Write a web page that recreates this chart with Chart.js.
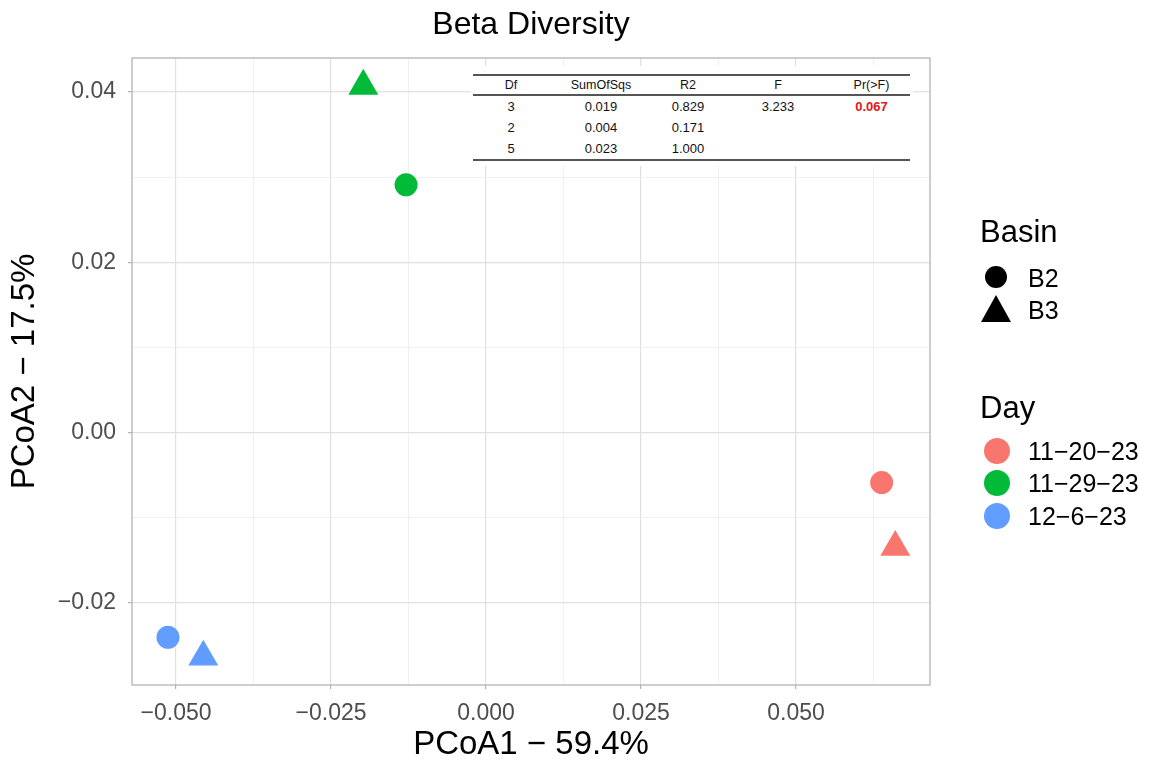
<!DOCTYPE html>
<html>
<head>
<meta charset="utf-8">
<title>Beta Diversity</title>
<script src="https://cdn.jsdelivr.net/npm/chart.js@4.4.1/dist/chart.umd.min.js"></script>
<style>
    html, body { margin: 0; padding: 0; background: #fff; }
    body {
        width: 1150px;
        height: 765px;
        position: relative;
        overflow: hidden;
        font-family: 'Liberation Sans', Arial, Helvetica, sans-serif;
    }
    #chart { position: absolute; left: 0; top: 0; }
    #anova {
        position: absolute;
        left: 471px;
        top: 66px;
        width: 442px;
        height: 100px;
        background: #fff;
    }
    #anova table {
        position: absolute;
        left: 2px;
        top: 8px;
        width: 437px;
        border-collapse: collapse;
        table-layout: fixed;
        font-size: 13px;
        color: #111;
    }
    #anova th, #anova td { text-align: center; padding: 0; font-weight: normal; }
    #anova thead tr { height: 20px; border-top: 2px solid #555; border-bottom: 2px solid #555; }
    #anova thead th { font-size: 12.5px; }
    #anova tbody tr { height: 21.5px; }
    #anova tbody tr:last-child { border-bottom: 2px solid #555; }
    #anova .sig { color: #e8141b; font-weight: bold; }
    .lg { position: absolute; color: #000; line-height: 1; white-space: nowrap; }
    .lg-title { font-size: 31px; }
    .lg-label { font-size: 25px; }
    .lg-dot { position: absolute; border-radius: 50%; }
    .lg-tri { position: absolute; }
</style>
</head>
<body>
<canvas id="chart" width="1150" height="765"></canvas>
<div id="anova"></div>
<div id="legend"></div>

<script>
// Data
const days = ['11\u221220\u221223', '11\u221229\u221223', '12\u22126\u221223'];
const dayColors = ['#F8766D', '#00BA38', '#619CFF'];
const basins = ['B2', 'B3'];

// PCoA coordinates per day (same order as days)
const pcoa1B2 = [0.0638, -0.0129, -0.0513];
const pcoa2B2 = [-0.0059, 0.0291, -0.0241];
const pcoa1B3 = [0.0660, -0.0198, -0.0456];
const pcoa2B3 = [-0.0135, 0.0407, -0.0264];

// Axes
const xMajor = [-0.05, -0.025, 0, 0.025, 0.05];
const xMinor = [-0.0375, -0.0125, 0.0125, 0.0375, 0.0625];
const yMajor = [-0.02, 0, 0.02, 0.04];
const yMinor = [-0.01, 0.01, 0.03];
const xRange = [-0.0571, 0.0716];
const yRange = [-0.0297, 0.0440];

// PERMANOVA table
const tableHeader = ['Df', 'SumOfSqs', 'R2', 'F', 'Pr(>F)'];
const tableRows = [
    ['3', '0.019', '0.829', '3.233', '0.067'],
    ['2', '0.004', '0.171', '', ''],
    ['5', '0.023', '1.000', '', '']
];

const isMajor = (v, list) => list.some(m => Math.abs(m - v) < 1e-9);
const fmt = (v, digits) => (v < -1e-12 ? '\u2212' : '') + Math.abs(v).toFixed(digits);

// Light grey panel border on all four sides
const panelBorder = {
    id: 'panelBorder',
    beforeDatasetsDraw(chart) {
        const { ctx, chartArea: a } = chart;
        ctx.save();
        ctx.strokeStyle = '#B3B3B3';
        ctx.lineWidth = 1.3;
        ctx.strokeRect(a.left, a.top, a.right - a.left, a.bottom - a.top);
        ctx.restore();
    }
};

function axisOptions(major, minor, range, digits, title, fitSize, horizontal) {
    return {
        type: 'linear',
        min: range[0],
        max: range[1],
        afterBuildTicks: scale => {
            scale.ticks = major.concat(minor).sort((a, b) => a - b).map(v => ({ value: v }));
        },
        afterFit: scale => {
            if (horizontal) scale.height = fitSize;
            else scale.width = fitSize;
        },
        border: { display: false },
        grid: {
            color: ctx => isMajor(ctx.tick.value, major) ? '#E0E0E0' : '#ECECEC',
            lineWidth: ctx => isMajor(ctx.tick.value, major) ? 1.2 : 0.8,
            tickColor: ctx => isMajor(ctx.tick.value, major) ? '#B3B3B3' : 'rgba(0,0,0,0)',
            tickLength: 4
        },
        ticks: {
            autoSkip: false,
            maxRotation: 0,
            padding: horizontal ? 11 : 12,
            color: '#4D4D4D',
            font: { family: "'Liberation Sans', Arial, sans-serif", size: 23 },
            callback: value => isMajor(value, major) ? fmt(value, digits) : ''
        },
        title: {
            display: true,
            text: title,
            color: '#000',
            font: { family: "'Liberation Sans', Arial, sans-serif", size: 33 },
            padding: { top: 0, bottom: 0 }
        }
    };
}

function initializeChart() {
    const ctx = document.getElementById('chart').getContext('2d');
    new Chart(ctx, {
        type: 'scatter',
        data: {
            datasets: [
                {
                    label: basins[0],
                    data: days.map((d, i) => ({ x: pcoa1B2[i], y: pcoa2B2[i] })),
                    pointStyle: 'circle',
                    pointRadius: 11.5,
                    backgroundColor: dayColors,
                    borderWidth: 0
                },
                {
                    label: basins[1],
                    data: days.map((d, i) => ({ x: pcoa1B3[i], y: pcoa2B3[i] })),
                    pointStyle: 'triangle',
                    pointRadius: 17.3,
                    backgroundColor: dayColors,
                    borderWidth: 0
                }
            ]
        },
        options: {
            responsive: false,
            animation: false,
            events: [],
            devicePixelRatio: 1,
            layout: { padding: { top: 0, left: 5, right: 220, bottom: 0 } },
            plugins: {
                legend: { display: false },
                tooltip: { enabled: false },
                title: {
                    display: true,
                    text: 'Beta Diversity',
                    fullSize: false,
                    color: '#000',
                    font: { family: "'Liberation Sans', Arial, sans-serif", size: 32, weight: 'normal' },
                    padding: { top: 6, bottom: 13.6 }
                }
            },
            scales: {
                x: axisOptions(xMajor, xMinor, xRange, 3, 'PCoA1 \u2212 59.4%', 80, true),
                y: axisOptions(yMajor, yMinor, yRange, 2, 'PCoA2 \u2212 17.5%', 127, false)
            }
        },
        plugins: [panelBorder]
    });
}

// PERMANOVA table drawn inside the panel
function loadTable() {
    const box = document.getElementById('anova');
    const widths = [76, 104, 70, 110, 77];
    box.innerHTML = `
        <table>
            <colgroup>${widths.map(w => `<col style="width:${w}px">`).join('')}</colgroup>
            <thead><tr>${tableHeader.map(h => `<th>${h}</th>`).join('')}</tr></thead>
            <tbody>
                ${tableRows.map(row => `<tr>${row.map((c, i) =>
                    `<td${i === 4 && c ? ' class="sig"' : ''}>${c}</td>`).join('')}</tr>`).join('')}
            </tbody>
        </table>`;
}

// Two-part legend: shape for Basin, colour for Day
function loadLegend() {
    const legend = document.getElementById('legend');
    const parts = [];
    const text = (cls, str, left, cy, size) =>
        `<div class="lg ${cls}" style="left:${left}px;top:${cy - size / 2}px">${str}</div>`;

    parts.push(text('lg-title', 'Basin', 980, 231, 31));
    // circle
    parts.push(`<div class="lg-dot" style="left:${996 - 11}px;top:${277 - 11}px;width:22px;height:22px;background:#000"></div>`);
    parts.push(text('lg-label', basins[0], 1028, 278, 25));
    // triangle
    parts.push(`<svg class="lg-tri" width="32" height="28" style="left:${996 - 16}px;top:${295}px">
        <polygon points="16,0 31,27 1,27" fill="#000"/></svg>`);
    parts.push(text('lg-label', basins[1], 1028, 310, 25));

    parts.push(text('lg-title', 'Day', 980, 407, 31));
    const dayY = [451, 483, 516];
    days.forEach((d, i) => {
        parts.push(`<div class="lg-dot" style="left:${997 - 13}px;top:${dayY[i] - 13}px;width:26px;height:26px;background:${dayColors[i]}"></div>`);
        parts.push(text('lg-label', d, 1028, dayY[i], 25));
    });
    legend.innerHTML = parts.join('');
}

document.addEventListener('DOMContentLoaded', () => {
    initializeChart();
    loadTable();
    loadLegend();
});
</script>
</body>
</html>
